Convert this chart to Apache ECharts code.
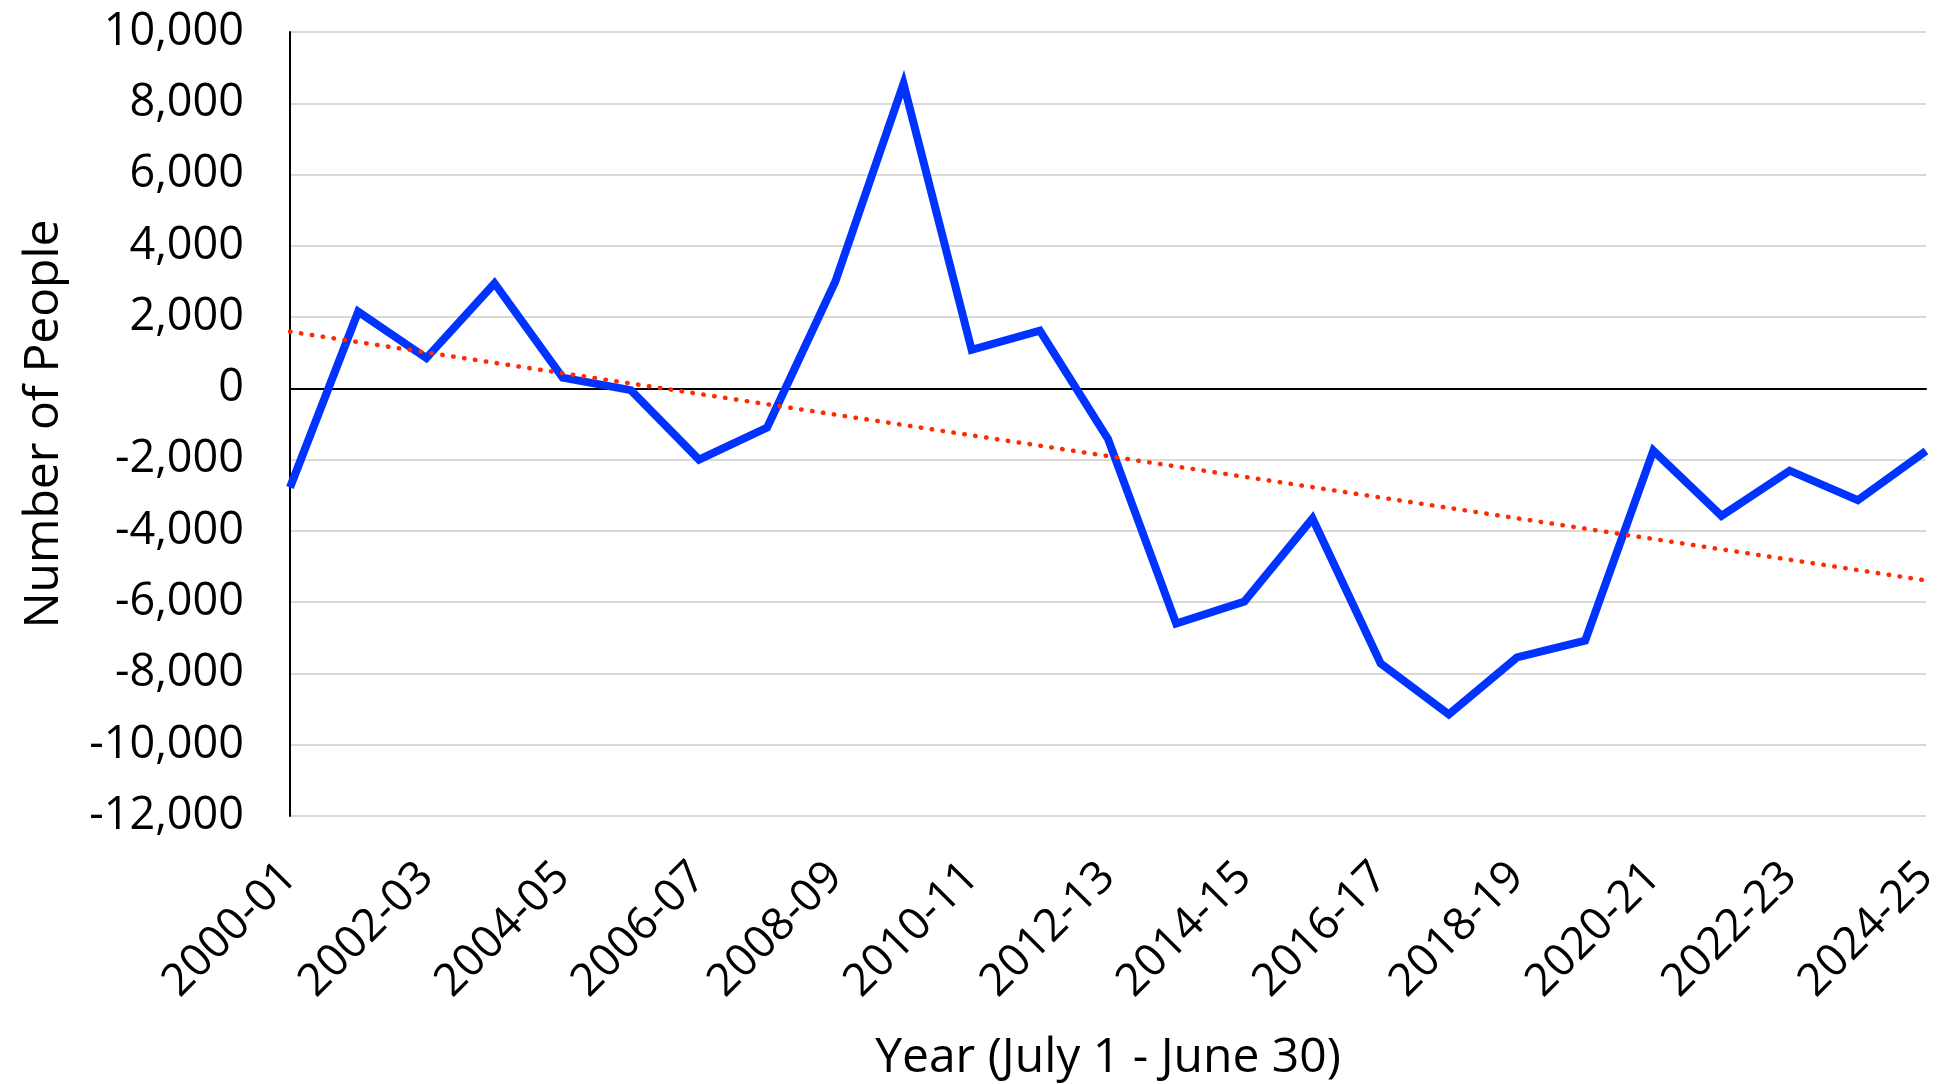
<!DOCTYPE html>
<html>
<head>
<meta charset="utf-8">
<script src="https://cdn.jsdelivr.net/npm/echarts@6/dist/echarts.min.js"></script>
<style>
  html, body { margin: 0; padding: 0; background: #fff; }
  #chart { width: 1949px; height: 1084px; }
</style>
</head>
<body>
<div id="chart"></div>
<script>
var years = ['2000-01','2001-02','2002-03','2003-04','2004-05','2005-06','2006-07','2007-08',
  '2008-09','2009-10','2010-11','2011-12','2012-13','2013-14','2014-15','2015-16','2016-17',
  '2017-18','2018-19','2019-20','2020-21','2021-22','2022-23','2023-24','2024-25'];
var people = [-2780, 2150, 850, 2950, 300, -50, -2000, -1100, 3000, 8550, 1080, 1620, -1420,
  -6600, -5980, -3650, -7720, -9150, -7550, -7080, -1750, -3580, -2310, -3140, -1760];
// trend line end points
var trendStart = 1590;
var trendEnd = -5390;
var yTicks = { min: -12000, max: 10000, step: 2000 };

var font = '"Open Sans", "Noto Sans", sans-serif';

var chart = echarts.init(document.getElementById('chart'));

var option = {
  animation: false,
  backgroundColor: '#fff',
  grid: { left: 290, right: 23, top: 32, bottom: 268, outerBoundsMode: 'none', containLabel: false },
  xAxis: [
    {
      type: 'category',
      data: years,
      boundaryGap: false,
      axisLine: { show: false, onZero: false },
      axisTick: { show: false },
      splitLine: { show: false },
      axisLabel: {
        interval: 1,
        rotate: 45,
        margin: 54,
        fontSize: 45,
        fontWeight: 500,
        fontFamily: font,
        color: '#000'
      },
      name: 'Year (July 1 - June 30)',
      nameLocation: 'middle',
      nameGap: 218,
      nameTextStyle: { fontSize: 48, fontWeight: 500, fontFamily: font, color: '#000' }
    },
    {
      type: 'category',
      data: years,
      boundaryGap: false,
      position: 'bottom',
      axisLine: { show: true, onZero: true, lineStyle: { color: '#000', width: 2 } },
      axisTick: { show: false },
      axisLabel: { show: false },
      splitLine: { show: false }
    }
  ],
  yAxis: {
    type: 'value',
    min: yTicks.min,
    max: yTicks.max,
    interval: yTicks.step,
    axisLine: { show: true, lineStyle: { color: '#000', width: 2 } },
    axisTick: { show: false },
    splitLine: { show: true, lineStyle: { color: '#d9d9d9', width: 2 } },
    axisLabel: {
      margin: 46,
      fontSize: 45,
      fontWeight: 500,
      fontFamily: font,
      color: '#000',
      formatter: function (v) { return v.toLocaleString('en-US'); }
    },
    name: 'Number of People',
    nameLocation: 'middle',
    nameGap: 222,
    nameTextStyle: { fontSize: 48, fontWeight: 500, fontFamily: font, color: '#000' }
  },
  series: [
    {
      type: 'line',
      data: people,
      symbol: 'none',
      lineStyle: { color: '#0033ff', width: 8, join: 'miter' },
      z: 3,
      markLine: {
        silent: true,
        symbol: ['none', 'none'],
        label: { show: false },
        lineStyle: { color: '#ff2a00', width: 4.5, type: [0.5, 10.5], cap: 'round' },
        data: [
          [ { coord: [years[0], trendStart] }, { coord: [years[years.length - 1], trendEnd] } ]
        ]
      }
    }
  ]
};

chart.setOption(option);
</script>
</body>
</html>
